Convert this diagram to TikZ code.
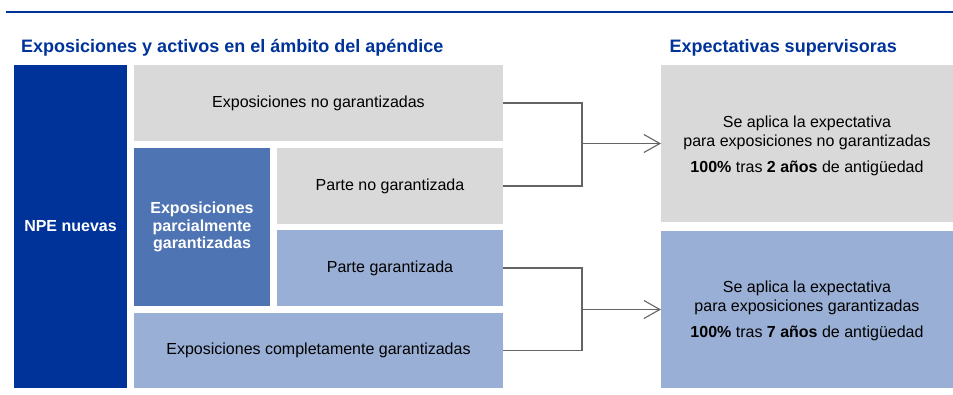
\documentclass[tikz,border=0pt]{standalone}
\usepackage{fontspec}
\setmainfont{Liberation Sans}
\usetikzlibrary{arrows.meta}
\definecolor{ecbdark}{RGB}{0,51,153}
\definecolor{ecbmid}{RGB}{79,116,179}
\definecolor{ecblight}{RGB}{154,175,213}
\definecolor{ecbgray}{RGB}{217,217,217}
\definecolor{conngray}{RGB}{100,100,100}
\tikzset{
  box/.style={rectangle, inner sep=0pt, outer sep=0pt, align=center, font=\fontsize{16}{17}\selectfont},
  graybox/.style={box, fill=ecbgray, text=black},
  lightbox/.style={box, fill=ecblight, text=black},
  midbox/.style={box, fill=ecbmid, text=white, font=\fontsize{16}{17.5}\selectfont\bfseries},
  darkbox/.style={box, fill=ecbdark, text=white, font=\fontsize{16}{17.5}\selectfont\bfseries},
  titletext/.style={inner sep=0pt, anchor=base west, text=ecbdark, font=\fontsize{18}{20}\selectfont\bfseries},
  conn/.style={draw=conngray, line width=1.1pt},
  arrowconn/.style={conn, -{Straight Barb[length=16pt,width=18pt]}}
}
\begin{document}
\begin{tikzpicture}[x=1pt,y=-1pt]
\useasboundingbox (0,0) rectangle (953,394);
% top rule
\coordinate (ruleL) at (6,12);
\coordinate (ruleR) at (953,12);
\draw[ecbdark, line width=2pt] (ruleL) -- (ruleR);
% titles
\node[titletext] (t1) at (21,52.5) {Exposiciones y activos en el ámbito del apéndice};
\node[titletext] (t2) at (669.5,52.5) {Expectativas supervisoras};
% left boxes
\node[darkbox, minimum width=113pt, minimum height=323pt] (npe) at (70.5,226.5) {NPE nuevas};
\node[graybox, minimum width=369pt, minimum height=76pt] (nogar) at (318.5,103) {Exposiciones no garantizadas};
\node[midbox, minimum width=136pt, minimum height=158pt] (parc) at (202,227) {Exposiciones\\parcialmente\\garantizadas};
\node[graybox, minimum width=226pt, minimum height=76pt] (parteno) at (390,186) {Parte no garantizada};
\node[lightbox, minimum width=226pt, minimum height=76pt] (partesi) at (390,268) {Parte garantizada};
\node[lightbox, minimum width=369pt, minimum height=75pt] (compl) at (318.5,350.5) {Exposiciones completamente garantizadas};
% right boxes
\node[graybox, minimum width=292pt, minimum height=157pt] (r1) at (807,143.5) {};
\node[lightbox, minimum width=292pt, minimum height=157pt] (r2) at (807,309.5) {};
\node[box, anchor=base] (r1a) at (807,127) {Se aplica la expectativa};
\node[box, anchor=base] (r1b) at (807,146.5) {para exposiciones no garantizadas};
\node[box, anchor=base] (r1c) at (807,172.5) {\textbf{100\%} tras \textbf{2 años} de antigüedad};
\node[box, anchor=base] (r2a) at (807,292.5) {Se aplica la expectativa};
\node[box, anchor=base] (r2b) at (807,311.5) {para exposiciones garantizadas};
\node[box, anchor=base] (r2c) at (807,337.5) {\textbf{100\%} tras \textbf{7 años} de antigüedad};
% connectors
\coordinate (j1) at (582,143.5);
\coordinate (j2) at (582,309.5);
\draw[conn] (nogar.east) -| (j1);
\draw[conn] (parteno.east) -| (j1);
\draw[arrowconn] (j1) -- (r1.west);
\draw[conn] (partesi.east) -| (j2);
\draw[conn] (compl.east) -| (j2);
\draw[arrowconn] (j2) -- (r2.west);
\end{tikzpicture}
\end{document}
